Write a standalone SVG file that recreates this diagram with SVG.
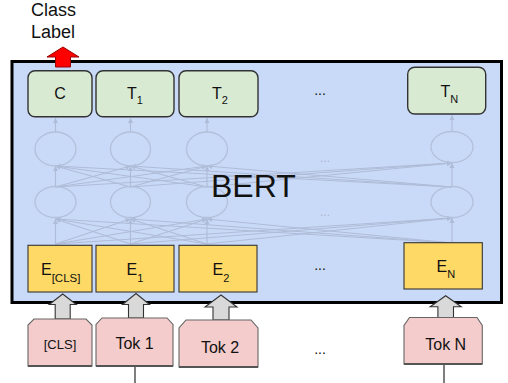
<svg xmlns="http://www.w3.org/2000/svg" width="508" height="383" viewBox="0 0 508 383">
<defs>
<style>
text{font-family:"Liberation Sans",Arial,sans-serif;fill:#111}
.out{fill:#d9ead3;stroke:#333;stroke-width:1.4}
.emb{fill:#ffd966;stroke:#333;stroke-width:1.1}
.tok{fill:#f4cccc;stroke:#666;stroke-width:1.1}
.gar{fill:#d9d9d9;stroke:#333;stroke-width:1.1}
.net{stroke:#afbcd8;stroke-width:1.1;fill:none}
.ell{stroke:#b3c0db;stroke-width:1.3;fill:none}
.dots{font-size:14px;text-anchor:middle}
.fdots{font-size:12px;text-anchor:middle;fill:#a9b6d3}
</style>
<marker id="ah" markerWidth="6" markerHeight="6" refX="5" refY="3" orient="auto" markerUnits="userSpaceOnUse">
<path d="M0,0.5 L5,3 L0,5.5 Z" fill="#afbcd8"/>
</marker>
</defs>
<rect width="508" height="383" fill="#fff"/>
<text x="31" y="16" font-size="18">Class</text>
<text x="31" y="38" font-size="18">Label</text>
<g id="bert">
<rect x="12" y="61.5" width="489.5" height="241" fill="#c9daf8" stroke="#000" stroke-width="3"/>
</g>
<g id="connectors">
<g class="net" marker-end="url(#ah)">
<line x1="55.5" y1="244" x2="55.5" y2="219"/>
<line x1="130.5" y1="244" x2="55.5" y2="219"/>
<line x1="207" y1="244" x2="55.5" y2="219"/>
<line x1="452" y1="243" x2="55.5" y2="219"/>
<line x1="55.5" y1="244" x2="130.5" y2="219"/>
<line x1="130.5" y1="244" x2="130.5" y2="219"/>
<line x1="207" y1="244" x2="130.5" y2="219"/>
<line x1="452" y1="243" x2="130.5" y2="219"/>
<line x1="55.5" y1="244" x2="207" y2="219"/>
<line x1="130.5" y1="244" x2="207" y2="219"/>
<line x1="207" y1="244" x2="207" y2="219"/>
<line x1="452" y1="243" x2="207" y2="219"/>
<line x1="55.5" y1="244" x2="452" y2="218"/>
<line x1="130.5" y1="244" x2="452" y2="218"/>
<line x1="207" y1="244" x2="452" y2="218"/>
<line x1="452" y1="243" x2="452" y2="218"/>
<line x1="55.5" y1="187" x2="55.5" y2="166"/>
<line x1="130.5" y1="187" x2="55.5" y2="166"/>
<line x1="207" y1="187" x2="55.5" y2="166"/>
<line x1="452" y1="187" x2="55.5" y2="166"/>
<line x1="55.5" y1="187" x2="130.5" y2="166"/>
<line x1="130.5" y1="187" x2="130.5" y2="166"/>
<line x1="207" y1="187" x2="130.5" y2="166"/>
<line x1="452" y1="187" x2="130.5" y2="166"/>
<line x1="55.5" y1="187" x2="207" y2="166"/>
<line x1="130.5" y1="187" x2="207" y2="166"/>
<line x1="207" y1="187" x2="207" y2="166"/>
<line x1="452" y1="187" x2="207" y2="166"/>
<line x1="55.5" y1="187" x2="452" y2="163"/>
<line x1="130.5" y1="187" x2="452" y2="163"/>
<line x1="207" y1="187" x2="452" y2="163"/>
<line x1="452" y1="187" x2="452" y2="163"/>
<line x1="55.5" y1="132" x2="55.5" y2="118"/>
<line x1="130.5" y1="132" x2="130.5" y2="118"/>
<line x1="207" y1="132" x2="207" y2="118"/>
<line x1="452" y1="132" x2="452" y2="115"/>
</g>
<g class="ell">
<ellipse cx="55.5" cy="149" rx="20.5" ry="17"/>
<ellipse cx="130.5" cy="149" rx="20" ry="17"/>
<ellipse cx="207" cy="149" rx="20.5" ry="17"/>
<ellipse cx="452" cy="147" rx="21" ry="15.5"/>
<ellipse cx="55.5" cy="202" rx="20.5" ry="15.5"/>
<ellipse cx="130.5" cy="202" rx="20" ry="15.5"/>
<ellipse cx="207" cy="202" rx="20.5" ry="15.5"/>
<ellipse cx="452" cy="202" rx="21" ry="15.5"/>
</g>
<text class="fdots" x="325" y="162">...</text>
<text class="fdots" x="325" y="216">...</text>
<path class="gar" d="M62.7,294 L76.2,304.5 L70.2,304.5 L70.2,319 L55.2,319 L55.2,304.5 L49.2,304.5 Z"/>
<path class="gar" d="M136,293.5 L149.5,304.5 L143.5,304.5 L143.5,318 L128.5,318 L128.5,304.5 L122.5,304.5 Z"/>
<path class="gar" d="M221,295 L237,307 L229,307 L229,320 L213,320 L213,307 L205,307 Z"/>
<path class="gar" d="M445.7,295.7 L461.2,306.7 L453.5,306.7 L453.5,317.5 L437.9,317.5 L437.9,306.7 L430.2,306.7 Z"/>
<path d="M63,47 L79,57 L70.5,57 L70.5,67 L55.5,67 L55.5,57 L47,57 Z" fill="#ff0000" stroke="#990000" stroke-width="1"/>
<line x1="135" y1="366" x2="135" y2="383" stroke="#555" stroke-width="1.5"/>
<line x1="444" y1="364" x2="444" y2="383" stroke="#555" stroke-width="1.5"/>
</g>
<text x="211" y="197" font-size="32" fill="#000">BERT</text>
<g id="out-C"><rect class="out" x="28" y="70.7" width="64" height="46" rx="7"/><text x="60" y="99" font-size="16" text-anchor="middle">C</text></g>
<g id="out-T1"><rect class="out" x="96" y="70.7" width="78" height="46" rx="7"/><text x="127" y="99" font-size="16">T<tspan font-size="11" dy="5">1</tspan></text></g>
<g id="out-T2"><rect class="out" x="179" y="70.7" width="79" height="46" rx="7"/><text x="212" y="99" font-size="16">T<tspan font-size="11" dy="5">2</tspan></text></g>
<g id="out-TN"><rect class="out" x="407.7" y="67.3" width="78" height="46.7" rx="7"/><text x="440.5" y="96.7" font-size="16">T<tspan font-size="11" dy="6">N</tspan></text></g>
<text class="dots" x="320" y="95">...</text>
<g id="emb-CLS"><rect class="emb" x="28" y="245.3" width="64" height="46.7"/><text x="41" y="274.7" font-size="16">E<tspan font-size="11.5" dy="7.5">[CLS]</tspan></text></g>
<g id="emb-1"><rect class="emb" x="96" y="245.3" width="78" height="46.7"/><text x="126.5" y="274.7" font-size="16">E<tspan font-size="11" dy="7">1</tspan></text></g>
<g id="emb-2"><rect class="emb" x="179" y="245.3" width="78" height="46.7"/><text x="212.5" y="274.7" font-size="16">E<tspan font-size="11" dy="7">2</tspan></text></g>
<g id="emb-N"><rect class="emb" x="404" y="242.7" width="78.3" height="46.3"/><text x="436.5" y="272.3" font-size="16">E<tspan font-size="11" dy="6">N</tspan></text></g>
<text class="dots" x="320" y="270">...</text>
<g id="tok-CLS"><path class="tok" d="M34,319 L86,319 L92,325 L92,366 L28,366 L28,325 Z"/><line x1="28" y1="366" x2="92" y2="366" stroke="#555" stroke-width="2"/><text x="60" y="349" font-size="13" text-anchor="middle">[CLS]</text></g>
<g id="tok-1"><path class="tok" d="M102,318 L167,318 L173,324.5 L173,366 L96,366 L96,324.5 Z"/><line x1="96" y1="366" x2="173" y2="366" stroke="#555" stroke-width="2"/><text x="134.5" y="349.3" font-size="16" text-anchor="middle">Tok 1</text></g>
<g id="tok-2"><path class="tok" d="M186,320 L251,320 L258,328 L258,367 L179,367 L179,328 Z"/><line x1="179" y1="367" x2="258" y2="367" stroke="#555" stroke-width="2"/><text x="220" y="352.7" font-size="16" text-anchor="middle">Tok 2</text></g>
<g id="tok-N"><path class="tok" d="M409.5,317.5 L477,317.5 L482.3,325.5 L482.3,364 L404,364 L404,325.5 Z"/><line x1="404" y1="364" x2="482.3" y2="364" stroke="#555" stroke-width="2"/><text x="445.7" y="350" font-size="16" text-anchor="middle">Tok N</text></g>
<text class="dots" x="320" y="354">...</text>
</svg>
